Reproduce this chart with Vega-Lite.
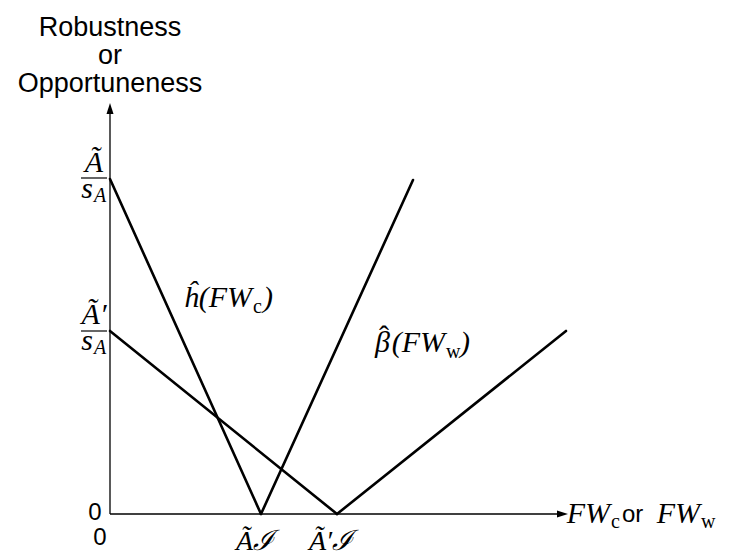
{
  "$schema": "https://vega.github.io/schema/vega-lite/v6.json",
  "width": 460,
  "height": 411,
  "autosize": {"type": "none"},
  "padding": {"left": 110, "top": 103, "right": 161, "bottom": 41},
  "background": "white",
  "config": {"view": {"stroke": null}},
  "encoding": {
    "x": {"field": "x", "type": "quantitative", "scale": {"domain": [0, 460], "nice": false, "zero": false}, "axis": null},
    "y": {"field": "y", "type": "quantitative", "scale": {"domain": [0, 411], "nice": false, "zero": false}, "axis": null}
  },
  "layer": [
    {
      "data": {"values": [
        {"axis": "FW", "x": 0, "y": 0, "x2": 452, "y2": 0},
        {"axis": "robustness", "x": 0, "y": 0, "x2": 0, "y2": 404}
      ]},
      "mark": {"type": "rule", "color": "black", "strokeWidth": 1.3},
      "encoding": {"x2": {"field": "x2"}, "y2": {"field": "y2"}}
    },
    {
      "data": {"values": [{"x": 0, "y": 411}]},
      "mark": {"type": "point", "shape": "M0,0L-0.7,2.2L0.7,2.2Z", "size": 100, "filled": true, "color": "black", "opacity": 1}
    },
    {
      "data": {"values": [{"x": 458, "y": 0}]},
      "mark": {"type": "point", "shape": "M0,0L-2.2,-0.7L-2.2,0.7Z", "size": 100, "filled": true, "color": "black", "opacity": 1}
    },
    {
      "data": {"values": [
        {"series": "robustness Ã", "x": 0, "y": 335},
        {"series": "robustness Ã", "x": 151, "y": 0},
        {"series": "robustness Ã′", "x": 0, "y": 183},
        {"series": "robustness Ã′", "x": 227, "y": 0},
        {"series": "opportuneness Ã", "x": 151, "y": 0},
        {"series": "opportuneness Ã", "x": 303, "y": 334},
        {"series": "opportuneness Ã′", "x": 227, "y": 0},
        {"series": "opportuneness Ã′", "x": 456, "y": 183}
      ]},
      "mark": {"type": "line", "color": "black", "strokeWidth": 2.6, "strokeCap": "round"},
      "encoding": {"detail": {"field": "series"}}
    },
    {
      "data": {"values": [
        {"x": -29, "y": 336, "x2": -3},
        {"x": -29, "y": 183, "x2": -3}
      ]},
      "mark": {"type": "rule", "color": "black", "strokeWidth": 1.2},
      "encoding": {"x2": {"field": "x2"}}
    },
    {
      "data": {"values": [{"x": 0, "y": 478, "text": ["Robustness", "or", "Opportuneness"]}]},
      "mark": {"type": "text", "font": "Liberation Sans", "fontSize": 27, "lineHeight": 28, "align": "center", "baseline": "alphabetic", "color": "black"},
      "encoding": {"text": {"field": "text"}}
    },
    {
      "data": {"values": [
        {"x": 142, "y": 207, "text": "ĥ(FW"},
        {"x": 335, "y": 162, "text": "(FW"},
        {"x": 280, "y": 162, "text": "β"},
        {"x": 500, "y": -9, "text": "FW"},
        {"x": 590, "y": -9, "text": "FW"}
      ]},
      "mark": {"type": "text", "font": "Liberation Serif", "fontStyle": "italic", "fontSize": 30, "align": "right", "baseline": "alphabetic", "color": "black"},
      "encoding": {"text": {"field": "text"}}
    },
    {
      "data": {"values": [{"x": 274, "y": 168, "text": "ˆ"}]},
      "mark": {"type": "text", "font": "Liberation Serif", "fontSize": 30, "align": "center", "baseline": "alphabetic", "color": "black"},
      "encoding": {"text": {"field": "text"}}
    },
    {
      "data": {"values": [
        {"x": 153, "y": 207, "text": ")"},
        {"x": 350, "y": 162, "text": ")"}
      ]},
      "mark": {"type": "text", "font": "Liberation Serif", "fontStyle": "italic", "fontSize": 30, "align": "left", "baseline": "alphabetic", "color": "black"},
      "encoding": {"text": {"field": "text"}}
    },
    {
      "data": {"values": [
        {"x": 143, "y": 201, "text": "c"},
        {"x": 336, "y": 156, "text": "w"},
        {"x": 501, "y": -14, "text": "c"},
        {"x": 591, "y": -14, "text": "w"}
      ]},
      "mark": {"type": "text", "font": "Liberation Serif", "fontSize": 20, "align": "left", "baseline": "alphabetic", "color": "black"},
      "encoding": {"text": {"field": "text"}}
    },
    {
      "data": {"values": [
        {"x": -16, "y": 342, "text": "Ã"},
        {"x": -16, "y": 190, "text": "Ã′"},
        {"x": -23, "y": 316, "text": "s"},
        {"x": -23, "y": 164, "text": "s"}
      ]},
      "mark": {"type": "text", "font": "Liberation Serif", "fontStyle": "italic", "fontSize": 30, "align": "center", "baseline": "alphabetic", "color": "black"},
      "encoding": {"text": {"field": "text"}}
    },
    {
      "data": {"values": [
        {"x": 145, "y": -36, "text": "Ãℐ"},
        {"x": 221, "y": -36, "text": "Ã′ℐ"}
      ]},
      "mark": {"type": "text", "font": "Liberation Serif", "fontStyle": "italic", "fontSize": 28, "align": "center", "baseline": "alphabetic", "color": "black"},
      "encoding": {"text": {"field": "text"}}
    },
    {
      "data": {"values": [
        {"x": -16, "y": 312, "text": "A"},
        {"x": -16, "y": 160, "text": "A"}
      ]},
      "mark": {"type": "text", "font": "Liberation Serif", "fontStyle": "italic", "fontSize": 20, "align": "left", "baseline": "alphabetic", "color": "black"},
      "encoding": {"text": {"field": "text"}}
    },
    {
      "data": {"values": [
        {"x": -15, "y": -6, "text": "0"},
        {"x": -10, "y": -31, "text": "0"}
      ]},
      "mark": {"type": "text", "font": "Liberation Sans", "fontSize": 24, "align": "center", "baseline": "alphabetic", "color": "black"},
      "encoding": {"text": {"field": "text"}}
    },
    {
      "data": {"values": [{"x": 512, "y": -8, "text": "or"}]},
      "mark": {"type": "text", "font": "Liberation Sans", "fontSize": 24, "align": "left", "baseline": "alphabetic", "color": "black"},
      "encoding": {"text": {"field": "text"}}
    }
  ]
}
